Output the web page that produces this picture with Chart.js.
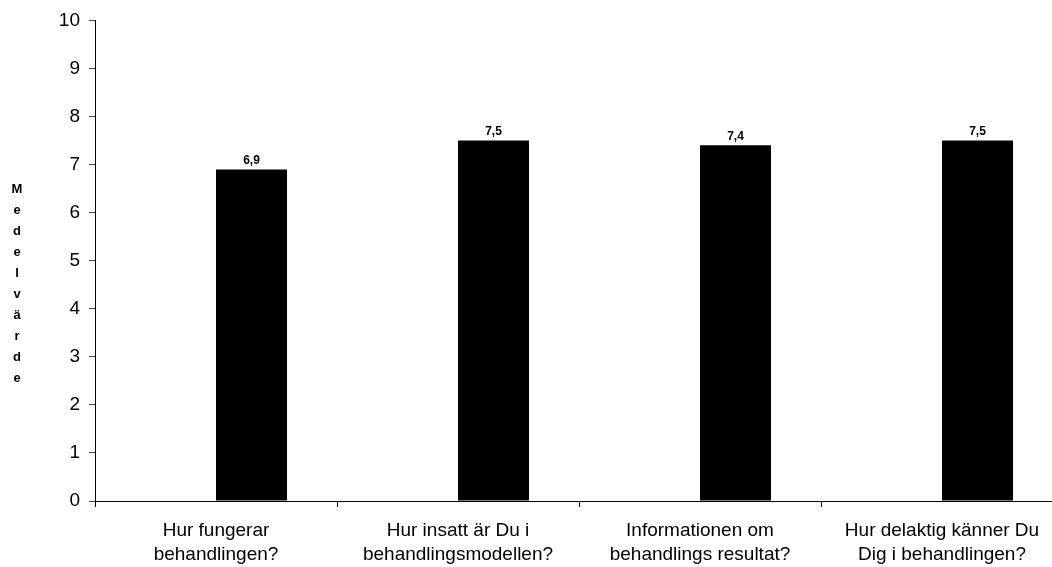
<!DOCTYPE html>
<html>
<head>
<meta charset="utf-8">
<script src="https://cdn.jsdelivr.net/npm/chart.js@4"></script>
<style>
  html, body { margin: 0; padding: 0; background: #fff; overflow: hidden; }
  #wrap { width: 1080px; height: 567px; }
</style>
</head>
<body>
<div id="wrap"><canvas id="chart" width="1080" height="567"></canvas></div>
<script>
  // Chart data
  const categories = [
    ['Hur fungerar', 'behandlingen?'],
    ['Hur insatt är Du i', 'behandlingsmodellen?'],
    ['Informationen om', 'behandlings resultat?'],
    ['Hur delaktig känner Du', 'Dig i behandlingen?']
  ];
  const meanValues = [6.9, 7.5, 7.4, 7.5];
  const yTicks = [0, 1, 2, 3, 4, 5, 6, 7, 8, 9, 10];
  const yTitle = 'Medelvärde';

  const fontFamily = "'Liberation Sans', Arial, sans-serif";

  // value labels above the bars (Swedish decimal comma)
  const valueLabels = {
    id: 'valueLabels',
    afterDatasetsDraw(chart) {
      const ctx = chart.ctx;
      const meta = chart.getDatasetMeta(1);
      ctx.save();
      ctx.font = 'bold 12px ' + fontFamily;
      ctx.fillStyle = '#000';
      ctx.textAlign = 'center';
      ctx.textBaseline = 'bottom';
      meta.data.forEach((bar, i) => {
        ctx.fillText(meanValues[i].toFixed(1).replace('.', ','), bar.x, bar.y - 3);
      });
      ctx.restore();
    }
  };

  // stacked vertical axis title, one letter per line
  const stackedTitle = {
    id: 'stackedTitle',
    afterDraw(chart) {
      const ctx = chart.ctx;
      ctx.save();
      ctx.font = 'bold 13px ' + fontFamily;
      ctx.fillStyle = '#000';
      ctx.textAlign = 'center';
      ctx.textBaseline = 'middle';
      yTitle.split('').forEach((ch, i) => {
        ctx.fillText(ch, 17, 189 + i * 21.1);
      });
      ctx.restore();
    }
  };

  new Chart(document.getElementById('chart'), {
    type: 'bar',
    data: {
      labels: categories,
      datasets: [
        { label: '', data: [], backgroundColor: '#fff' },
        {
          label: 'Medelvärde',
          data: meanValues,
          backgroundColor: '#000',
          borderColor: '#000',
          borderWidth: 0,
          categoryPercentage: 0.587,
          barPercentage: 1
        }
      ]
    },
    options: {
      responsive: false,
      animation: false,
      layout: { padding: { left: 0, top: 20, right: 17, bottom: 0 } },
      datasets: { bar: { categoryPercentage: 0.587, barPercentage: 1 } },
      plugins: {
        legend: { display: false },
        tooltip: { enabled: false },
        title: { display: false }
      },
      scales: {
        x: {
          offset: true,
          grid: {
            offset: true,
            drawOnChartArea: false,
            drawTicks: true,
            tickLength: 6,
            color: '#000'
          },
          border: { color: '#000', width: 1 },
          ticks: {
            color: '#000',
            font: { family: fontFamily, size: 19, lineHeight: 1.25 },
            padding: 12,
            maxRotation: 0,
            autoSkip: false
          },
          afterFit: (scale) => { scale.height = 66; }
        },
        y: {
          min: 0,
          max: 10,
          afterBuildTicks: (scale) => { scale.ticks = yTicks.map(v => ({ value: v })); },
          grid: {
            drawOnChartArea: false,
            drawTicks: true,
            tickLength: 6,
            color: '#444'
          },
          border: { color: '#000', width: 1 },
          ticks: {
            color: '#000',
            font: { family: fontFamily, size: 19 },
            padding: 9
          },
          afterFit: (scale) => { scale.width = 95; }
        }
      }
    },
    plugins: [valueLabels, stackedTitle]
  });
</script>
</body>
</html>
